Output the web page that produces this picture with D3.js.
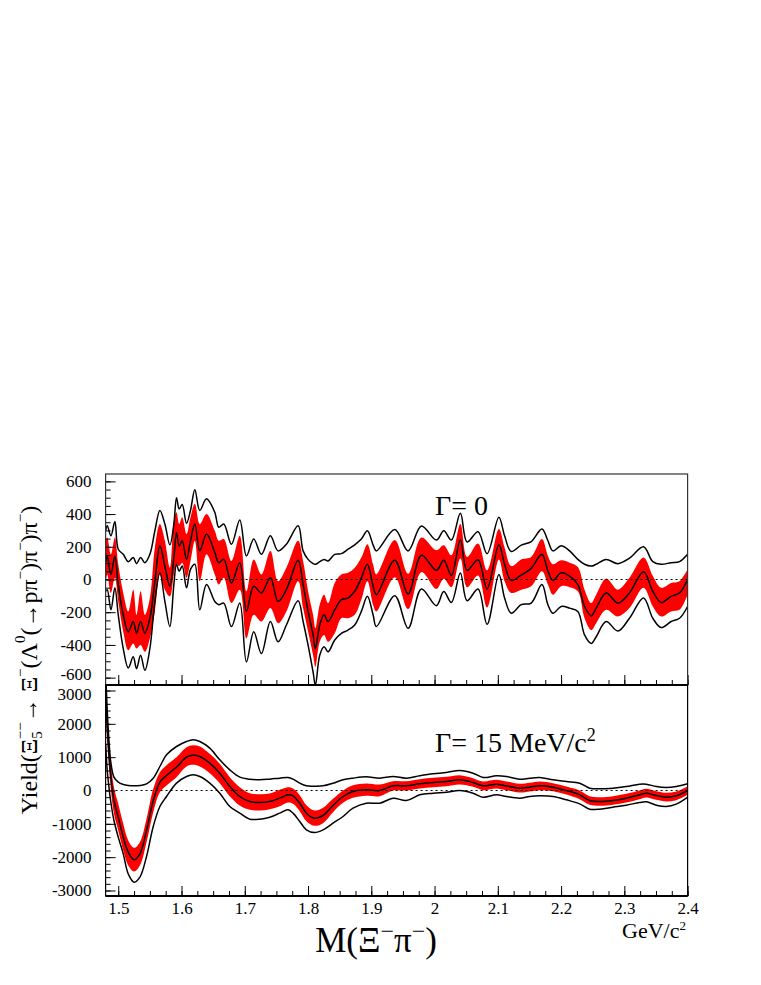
<!DOCTYPE html>
<html>
<head>
<meta charset="utf-8">
<script src="https://cdn.jsdelivr.net/npm/d3@7"></script>
<style>
  body { margin: 0; background: #fff; }
  svg text { font-family: "Liberation Serif", "Times New Roman", serif !important; fill: #000; }
</style>
</head>
<body>
<div id="chart"></div>
<script>
// ---- data ----------------------------------------------------------------
// top panel (Gamma = 0): mass in GeV/c^2, yields
var topMass = [1.4800,1.4826,1.4884,1.4947,1.5000,1.5079,1.5158,1.5237,1.5289,1.5353,1.5421,1.5500,
  1.5579,1.5658,1.5737,1.5816,1.5879,1.5921,1.5963,1.6011,1.6079,1.6142,1.6211,1.6289,1.6395,1.6526,
  1.6589,1.6668,1.6789,1.6921,1.7026,1.7142,1.7263,1.7405,1.7526,1.7658,1.7843,1.7922,1.8001,1.8080,
  1.8116,1.8185,1.8253,1.8317,1.8422,1.8527,1.8633,1.8738,1.8843,1.8938,1.9028,1.9080,1.9371,1.9582,
  1.9792,2.0029,2.0145,2.0266,2.0408,2.0514,2.0687,2.0830,2.1017,2.1107,2.1212,2.1370,2.1528,2.1697,
  2.1792,2.1871,2.2002,2.2134,2.2265,2.2371,2.2476,2.2555,2.2713,2.2897,2.3081,2.3303,2.3450,2.3582,
  2.3740,2.3872,2.4000];
var topCenter = [103,144,31,144,-31,-216,-319,-257,-329,-257,-329,-237,
  -10,206,82,-41,134,288,206,237,123,237,339,175,278,165,
  103,123,-21,103,-195,-41,-82,10,-134,-62,117,-31,-195,-339,
  -422,-278,-216,-257,-185,-123,-113,-72,10,93,-41,-93,117,-88,
  148,56,117,25,241,56,121,-58,212,93,-6,27,68,154,
  51,-6,41,21,-31,-165,-222,-175,-82,-144,-82,47,-72,-140,
  -103,-82,0];
var topBandHi = [237,257,154,257,93,-82,-195,-62,-216,-72,-216,-113,
  195,339,237,72,360,411,339,381,278,381,463,339,401,298,
  237,247,113,267,-72,123,31,175,-10,72,237,113,-72,-216,
  -298,-154,-93,-144,-21,31,41,72,134,216,93,31,241,35,
  257,179,210,148,339,138,220,56,309,195,82,123,138,247,
  144,93,117,103,76,-62,-144,-93,6,-62,10,134,21,-51,
  -21,-10,62];
var topBandLo = [-31,31,-82,10,-134,-319,-432,-391,-422,-401,-442,-360,
  -195,31,-62,-103,31,93,82,103,10,113,237,-10,154,31,
  -31,10,-144,-62,-360,-216,-257,-175,-267,-195,-10,-175,-319,-463,
  -535,-381,-339,-381,-329,-237,-237,-216,-123,-10,-154,-195,14,-181,
  45,-58,4,-47,128,-47,25,-171,123,-10,-82,-62,-41,51,
  -31,-93,-41,-47,-72,-237,-309,-267,-185,-226,-175,-51,-165,-226,
  -195,-185,-93];
var topOuterHi = [298,329,267,354,185,154,109,134,97,134,103,154,
  298,422,339,212,339,500,432,459,344,422,549,422,494,411,
  319,339,216,364,144,247,154,267,175,216,329,175,123,97,
  93,109,123,113,154,158,185,212,247,298,212,175,306,175,
  327,241,298,241,405,230,292,158,381,267,171,210,232,309,
  237,175,206,175,123,93,82,93,123,97,130,200,109,93,
  103,109,154];
var topOuterLo = [-72,-62,-185,-51,-216,-422,-541,-473,-545,-463,-555,-422,
  -134,41,-134,-288,-31,93,51,82,-51,62,93,-185,-31,-134,
  -154,-144,-288,-144,-504,-319,-453,-257,-381,-278,-130,-257,-401,-566,
  -648,-463,-411,-442,-370,-329,-309,-278,-195,-103,-216,-288,-99,-298,
  -58,-160,-74,-140,39,-130,-58,-274,31,-113,-206,-154,-144,-31,
  -154,-206,-165,-175,-195,-339,-391,-350,-257,-315,-237,-113,-237,-294,
  -257,-237,-165];

// bottom panel (Gamma = 15 MeV/c^2)
var botMass = [1.4800,1.4826,1.4853,1.4879,1.4932,1.5000,1.5079,1.5158,1.5250,1.5342,1.5447,1.5553,
  1.5658,1.5763,1.5921,1.6079,1.6184,1.6289,1.6447,1.6605,1.6763,1.6921,1.7079,1.7237,1.7395,1.7553,
  1.7684,1.7763,1.7869,1.7974,1.8105,1.8237,1.8395,1.8553,1.8711,1.8921,1.9134,1.9345,1.9555,1.9766,
  1.9977,2.0187,2.0398,2.0608,2.0766,2.0977,2.1135,2.1346,2.1504,2.1662,2.1872,2.2083,2.2294,2.2452,
  2.2610,2.2820,2.3030,2.3241,2.3347,2.3505,2.3663,2.3821,2.4000];
var botCenter = [2950,1900,1100,500,-300,-800,-1400,-1850,-2080,-1900,-1200,-300,
  250,450,700,1000,1060,1020,820,520,120,-180,-330,-360,-330,-230,
  -130,-160,-380,-680,-830,-750,-450,-180,-30,20,0,140,140,200,
  240,270,320,240,140,190,140,70,100,140,100,0,-130,-300,
  -330,-300,-230,-130,-80,-150,-200,-160,0];
var botBandHi = [3350,2300,1500,900,100,-400,-1000,-1500,-1720,-1550,-850,50,
  550,760,1000,1300,1360,1320,1100,800,400,100,-80,-110,-90,20,
  100,60,-140,-440,-600,-520,-250,0,160,210,180,280,280,340,
  380,410,460,370,270,320,270,200,230,270,220,120,0,-170,
  -200,-170,-100,0,50,-20,-70,-30,130];
var botBandLo = [2450,1450,700,100,-700,-1200,-1800,-2250,-2430,-2250,-1550,-650,
  -50,150,400,720,770,720,520,220,-170,-450,-580,-600,-560,-470,
  -360,-400,-620,-920,-1060,-980,-650,-370,-220,-160,-170,0,0,60,
  100,130,180,110,10,60,10,-60,-30,10,-20,-120,-260,-430,
  -460,-430,-360,-260,-210,-280,-330,-290,-130];
var botOuterHi = [3600,2400,1500,900,400,250,180,150,140,150,200,370,
  720,1070,1320,1470,1520,1470,1270,920,620,400,340,320,340,370,
  390,340,220,140,130,140,220,320,370,410,370,420,370,440,
  500,540,600,520,390,440,420,340,370,390,320,270,220,70,
  50,70,120,190,190,120,90,120,200];
var botOuterLo = [1400,600,100,-300,-900,-1400,-1900,-2500,-2750,-2600,-1980,-1080,
  -480,-180,220,420,470,420,220,-80,-480,-680,-860,-860,-800,-680,
  -580,-680,-930,-1180,-1260,-1180,-980,-780,-530,-380,-380,-230,-300,-130,
  -80,-50,0,-80,-200,-130,-180,-230,-180,-160,-180,-280,-400,-560,
  -560,-500,-440,-360,-340,-440,-480,-410,-200];

var massTicks = [1.5,1.6,1.7,1.8,1.9,2.0,2.1,2.2,2.3,2.4];
var topTicks = [-600,-400,-200,0,200,400,600];
var botTicks = [-3000,-2000,-1000,0,1000,2000,3000];

// ---- layout --------------------------------------------------------------
var width = 761, height = 985;
var left = 105.6, right = 687.6;
var topPanel = {y0: 474, y1: 685}, botPanel = {y0: 685, y1: 896};
var serif = "Liberation Serif, Times New Roman, serif";

var svg = d3.select("#chart").append("svg")
    .attr("width", width)
    .attr("height", height)
    .attr("font-family", serif);

svg.append("rect").attr("width", width).attr("height", height).attr("fill", "#fff");

var x = d3.scaleLinear().domain([1.48, 2.4]).range([left, right]);
var yTop = d3.scaleLinear().domain([-645, 645]).range([topPanel.y1, topPanel.y0]);
var yBot = d3.scaleLinear().domain([-3165, 3165]).range([botPanel.y1, botPanel.y0]);

function rows(mass, c, hi, lo, oh, ol){
    return mass.map(function(m, i){
        return {m: m, c: c[i], hi: hi[i], lo: lo[i], oh: oh[i], ol: ol[i]};
    });
}

function minorRange(a, b, step){
    var out = [];
    for (var v = a; v <= b + 1e-9; v += step) out.push(+v.toFixed(4));
    return out;
}

function drawPanel(id, panel, y, data, majors, minorStep, frameColor, labelShift){
    var g = svg.append("g").attr("class", id);

    g.append("clipPath").attr("id", "clip-" + id)
      .append("rect")
        .attr("x", left).attr("y", panel.y0)
        .attr("width", right - left).attr("height", panel.y1 - panel.y0);

    var plot = g.append("g").attr("clip-path", "url(#clip-" + id + ")");
    var curve = d3.curveCatmullRom.alpha(0.5);

    plot.append("path")
        .datum(data)
        .attr("fill", "#ff0000")
        .attr("d", d3.area()
            .x(function(d){ return x(d.m); })
            .y0(function(d){ return y(d.lo); })
            .y1(function(d){ return y(d.hi); })
            .curve(curve));

    plot.append("line")
        .attr("x1", left).attr("x2", right)
        .attr("y1", y(0)).attr("y2", y(0))
        .attr("stroke", "#000")
        .attr("stroke-width", 1)
        .attr("stroke-dasharray", "2,3");

    ["oh", "ol", "c"].forEach(function(key){
        plot.append("path")
            .datum(data)
            .attr("fill", "none")
            .attr("stroke", "#000")
            .attr("stroke-width", 1.5)
            .attr("d", d3.line()
                .x(function(d){ return x(d.m); })
                .y(function(d){ return y(d[key]); })
                .curve(curve));
    });

    // ticks (inward, ROOT style)
    var yMinor = minorRange(y.domain()[0] - y.domain()[0] % minorStep, y.domain()[1], minorStep);
    g.append("g")
        .attr("transform", "translate(" + left + ",0)")
        .call(d3.axisLeft(y).tickValues(yMinor).tickSize(-5).tickFormat(""));
    var ya = g.append("g")
        .attr("class", "y-axis")
        .attr("transform", "translate(" + left + ",0)")
        .call(d3.axisLeft(y).tickValues(majors).tickSize(-10).tickPadding(14)
            .tickFormat(function(d){ return d < 0 ? "-" + Math.abs(d) : String(d); }))
        .attr("font-family", serif)
        .attr("font-size", 17);
    // keep the two labels at the panel joint from colliding
    ya.selectAll(".tick text")
        .attr("dy", function(d){ return d === labelShift.value ? labelShift.dy : "0.32em"; });

    g.append("g")
        .attr("transform", "translate(0," + panel.y1 + ")")
        .call(d3.axisBottom(x).tickValues(minorRange(1.5, 2.4, 0.025)).tickSize(-5).tickFormat(""));
    g.append("g")
        .attr("transform", "translate(0," + panel.y1 + ")")
        .call(d3.axisBottom(x).tickValues(massTicks).tickSize(-10).tickFormat(""));

    g.selectAll(".domain").remove();
    g.selectAll(".tick line").attr("stroke", "#000");

    g.append("rect")
        .attr("x", left).attr("y", panel.y0)
        .attr("width", right - left).attr("height", panel.y1 - panel.y0)
        .attr("fill", "none")
        .attr("stroke", frameColor)
        .attr("stroke-width", 1.2);

    return g;
}

drawPanel("top", topPanel, yTop,
    rows(topMass, topCenter, topBandHi, topBandLo, topOuterHi, topOuterLo),
    topTicks, 50, "#333", {value: -600, dy: "0.12em"});
drawPanel("bot", botPanel, yBot,
    rows(botMass, botCenter, botBandHi, botBandLo, botOuterHi, botOuterLo),
    botTicks, 200, "#000", {value: 3000, dy: "0.55em"});

// heavier divider and lower frame as in the reference
svg.append("line")
    .attr("x1", left).attr("x2", right)
    .attr("y1", botPanel.y0).attr("y2", botPanel.y0)
    .attr("stroke", "#000").attr("stroke-width", 2);
svg.append("line")
    .attr("x1", left).attr("x2", right)
    .attr("y1", botPanel.y1).attr("y2", botPanel.y1)
    .attr("stroke", "#000").attr("stroke-width", 2);

// x tick labels under the lower panel
svg.append("g")
    .attr("class", "x-axis")
    .attr("transform", "translate(0," + botPanel.y1 + ")")
    .call(d3.axisBottom(x).tickValues(massTicks).tickSize(0).tickPadding(6)
        .tickFormat(function(d){ return String(+d.toFixed(1)); }))
    .call(function(a){ a.select(".domain").remove(); })
    .attr("font-family", serif)
    .attr("font-size", 17);

// panel labels
svg.append("text")
    .attr("x", 435).attr("y", 515)
    .attr("font-size", 28)
    .text("\u0393= 0");

var g15 = svg.append("text")
    .attr("x", 435).attr("y", 752)
    .attr("font-size", 28);
g15.append("tspan").text("\u0393= 15 MeV/c");
g15.append("tspan").attr("dy", -11).attr("font-size", 18).text("2");

// axis titles
var xt = svg.append("text")
    .attr("x", 376).attr("y", 952)
    .attr("text-anchor", "middle")
    .attr("font-size", 35);
xt.append("tspan").text("M(\u039E");
xt.append("tspan").attr("dy", -13).attr("font-size", 24).text("\u2212");
xt.append("tspan").attr("dy", 13).text("\u03C0");
xt.append("tspan").attr("dy", -13).attr("font-size", 24).text("\u2212");
xt.append("tspan").attr("dy", 13).text(")");

var unit = svg.append("text")
    .attr("x", 686).attr("y", 938)
    .attr("text-anchor", "end")
    .attr("font-size", 22);
unit.append("tspan").text("GeV/c");
unit.append("tspan").attr("dy", -8).attr("font-size", 13).text("2");

var yt = svg.append("text")
    .attr("transform", "translate(37,660) rotate(-90)")
    .attr("text-anchor", "middle")
    .attr("font-size", 24);
yt.append("tspan").text("Yield(\u039E");
yt.append("tspan").attr("dy", 5).attr("font-size", 15).text("5");
yt.append("tspan").attr("dx", -8).attr("dy", -17).attr("font-size", 15).text("\u2212\u2212");
yt.append("tspan").attr("dy", 12).text("\u2192 \u039E");
yt.append("tspan").attr("dy", -12).attr("font-size", 15).text("\u2212");
yt.append("tspan").attr("dy", 12).text("(\u039B");
yt.append("tspan").attr("dy", -12).attr("font-size", 15).text("0");
yt.append("tspan").attr("dy", 12).text("(\u2192p\u03C0");
yt.append("tspan").attr("dy", -12).attr("font-size", 15).text("\u2212");
yt.append("tspan").attr("dy", 12).text(")\u03C0");
yt.append("tspan").attr("dy", -12).attr("font-size", 15).text("\u2212");
yt.append("tspan").attr("dy", 12).text(")\u03C0");
yt.append("tspan").attr("dy", -12).attr("font-size", 15).text("\u2212");
yt.append("tspan").attr("dy", 12).text(")");
</script>
</body>
</html>
